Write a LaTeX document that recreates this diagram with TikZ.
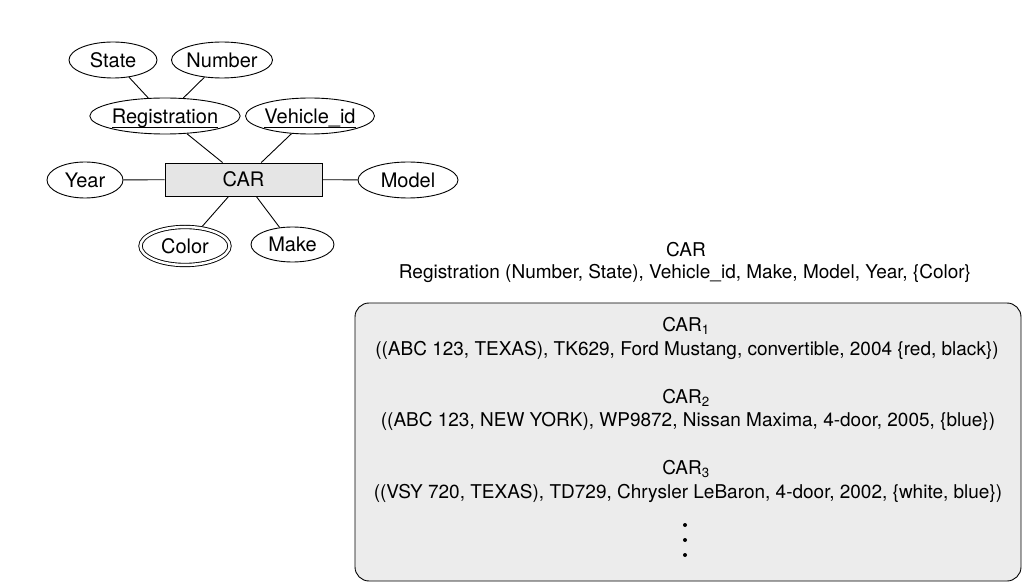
\documentclass[tikz,border=0pt]{standalone}
\usepackage{fontspec}
\setmainfont{TeX Gyre Heros}
\usepackage{xcolor}
\usetikzlibrary{shapes.geometric}

\definecolor{entgray}{gray}{0.9}
\definecolor{boxgray}{gray}{0.925}

% key attribute: text with a rule under it
\newcommand{\keyname}[1]{\setbox0\hbox{#1}\rlap{\rule[-4.5pt]{\wd0}{0.9pt}}\box0}

\tikzset{
	attr/.style={ellipse,draw,line width=0.9pt,inner sep=0pt,minimum height=36pt,text height=16pt,text depth=1.6pt,font=\fontsize{20}{23}\selectfont},
	entity/.style={rectangle,draw,fill=entgray,line width=0.9pt,inner sep=0pt,text height=16pt,text depth=1.6pt,font=\fontsize{20}{23}\selectfont},
	link/.style={line width=0.9pt},
	row/.style={font=\fontsize{19}{22}\selectfont,inner sep=0pt}
}

\begin{document}
\begin{tikzpicture}[x=1pt,y=-1pt]
	\useasboundingbox (0,0) rectangle (1026,585);
	
	\node[attr,minimum width=88pt] (state) at (113,60) {State};
	\node[attr,minimum width=101pt] (number) at (222,60) {Number};
	\node[attr,minimum width=140pt] (reg) at (165,116) {\keyname{Registration}};
	\node[attr,minimum width=124pt] (vid) at (310,116) {\keyname{Vehicle\_id}};
	\node[entity,minimum width=157pt,minimum height=33pt] (car) at (243.5,179.5) {CAR};
	\node[attr,minimum width=76pt] (year) at (85,180) {Year};
	\node[attr,minimum width=100pt] (model) at (408,180) {Model};
	\node[attr,minimum width=89pt,minimum height=38pt,double,double distance=2.5pt] (color) at (185,246) {Color};
	\node[attr,minimum width=83pt,minimum height=35pt] (make) at (292.5,244.5) {Make};
	
	\draw[link] (state) -- (reg);
	\draw[link] (number) -- (reg);
	\draw[link] (reg) -- (car);
	\draw[link] (vid) -- (car);
	\draw[link] (year) -- (car);
	\draw[link] (model) -- (car);
	\draw[link,shorten <=2pt] (color) -- (car);
	\draw[link] (make) -- (car);
	
	\node[row] (schema) at (686,250) {CAR};
	\node[row] (fields) at (685,273) {Registration (Number, State), Vehicle\_id, Make, Model, Year, \{Color\}};
	
	\draw[fill=boxgray,rounded corners=14pt,line width=0.9pt] (355,303) rectangle (1021,581);
	
	\node[row] (car1) at (686,326) {CAR\textsubscript{1}};
	\node[row] (val1) at (687,350) {((ABC 123, TEXAS), TK629, Ford Mustang, convertible, 2004 \{red, black\})};
	\node[row] (car2) at (686,398) {CAR\textsubscript{2}};
	\node[row] (val2) at (688,421) {((ABC 123, NEW YORK), WP9872, Nissan Maxima, 4-door, 2005, \{blue\})};
	\node[row] (car3) at (686,469) {CAR\textsubscript{3}};
	\node[row] (val3) at (688,493) {((VSY 720, TEXAS), TD729, Chrysler LeBaron, 4-door, 2002, \{white, blue\})};
	
	\fill (685,525) circle [radius=2pt];
	\fill (685,540) circle [radius=2pt];
	\fill (685,555) circle [radius=2pt];
\end{tikzpicture}
\end{document}
